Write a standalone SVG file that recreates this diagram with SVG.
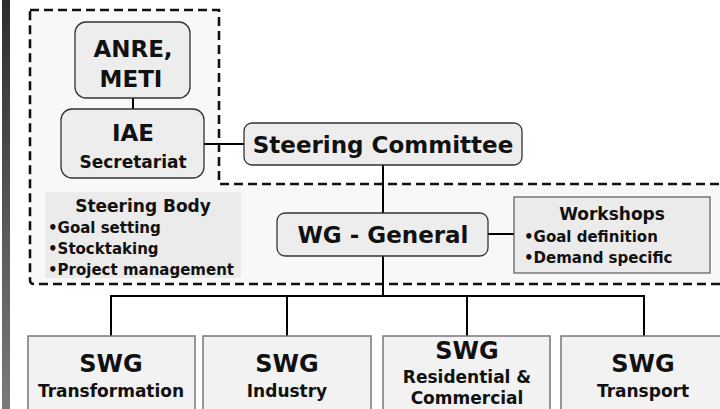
<svg xmlns="http://www.w3.org/2000/svg" width="720" height="409" viewBox="0 0 720 409">
  <defs>
    <linearGradient id="bar" x1="0" y1="0" x2="0" y2="1">
      <stop offset="0" stop-color="#2e2e2e"/>
      <stop offset="1" stop-color="#7a7a7a"/>
    </linearGradient>
    <style>
      text { font-family: "DejaVu Sans", Verdana, sans-serif; font-weight: bold; fill: #111; }
      .c { text-anchor: middle; }
      .rb { fill: #ededed; stroke: #333; stroke-width: 1.3; }
      .sq { fill: #ebebeb; stroke: #666; stroke-width: 1.3; }
      .swg { fill: #f2f2f2; stroke: #777; stroke-width: 1.5; }
      .dash { fill: #f8f8f8; stroke: #111; stroke-width: 2.6; stroke-dasharray: 9 5; }
      .conn { fill: none; stroke: #000; stroke-width: 2; }
      .big { font-size: 23px; }
      .mid { font-size: 17px; }
      .sml { font-size: 15px; }
    </style>
  </defs>
  <rect x="0" y="0" width="720" height="409" fill="#fff"/>
  <rect x="2" y="0" width="8" height="409" fill="url(#bar)"/>

  <g id="steering-region">
    <path class="dash" d="M30,10 H219 V184 H728 V284 H34 Q30,284 30,280 Z"/>
  </g>

  <g id="connectors">
    <line class="conn" x1="133" y1="98" x2="133" y2="109"/>
    <line class="conn" x1="204" y1="144" x2="244" y2="144"/>
    <line class="conn" x1="383" y1="165" x2="383" y2="213"/>
    <line class="conn" x1="383" y1="256" x2="383" y2="296"/>
    <line class="conn" x1="488" y1="234" x2="514" y2="234"/>
    <polyline class="conn" points="111,336 111,296 644,296 644,336"/>
    <line class="conn" x1="287" y1="296" x2="287" y2="336"/>
    <line class="conn" x1="467" y1="296" x2="467" y2="336"/>
  </g>

  <g id="anre-meti">
    <rect class="rb" x="75" y="22" width="115" height="76" rx="11"/>
    <text class="big c" x="133" y="57">ANRE,</text>
    <text class="big c" x="131" y="87">METI</text>
  </g>

  <g id="iae">
    <rect class="rb" x="61" y="109" width="143" height="69" rx="11"/>
    <text class="big c" x="133" y="141">IAE</text>
    <text class="mid c" x="133" y="168">Secretariat</text>
  </g>

  <g id="steering-committee">
    <rect class="rb" x="244" y="123" width="278" height="42" rx="8" fill="#f2f2f2"/>
    <text class="big c" x="383" y="153">Steering Committee</text>
  </g>

  <g id="steering-body">
    <rect x="45" y="192" width="196" height="86" fill="#ebebeb"/>
    <text class="mid c" x="143" y="212">Steering Body</text>
    <text class="sml" x="48" y="233">•Goal setting</text>
    <text class="sml" x="48" y="254">•Stocktaking</text>
    <text class="sml" x="48" y="275">•Project management</text>
  </g>

  <g id="wg-general">
    <rect class="rb" x="277" y="213" width="211" height="43" rx="8"/>
    <text class="big c" x="383" y="243">WG - General</text>
  </g>

  <g id="workshops">
    <rect class="sq" x="514" y="197" width="196" height="76"/>
    <text class="mid c" x="612" y="220">Workshops</text>
    <text class="sml" x="524" y="242">•Goal definition</text>
    <text class="sml" x="524" y="263">•Demand specific</text>
  </g>

  <g id="swg-transformation">
    <rect class="swg" x="28" y="336" width="167" height="80"/>
    <text class="big c" x="111" y="372" style="font-size:24px">SWG</text>
    <text class="mid c" x="111" y="397">Transformation</text>
  </g>

  <g id="swg-industry">
    <rect class="swg" x="203" y="336" width="168" height="80"/>
    <text class="big c" x="287" y="372" style="font-size:24px">SWG</text>
    <text class="mid c" x="287" y="397">Industry</text>
  </g>

  <g id="swg-residential">
    <rect class="swg" x="383" y="336" width="167" height="80"/>
    <text class="big c" x="467" y="359" style="font-size:24px">SWG</text>
    <text class="mid c" x="467" y="383">Residential &amp;</text>
    <text class="mid c" x="467" y="404">Commercial</text>
  </g>

  <g id="swg-transport">
    <rect class="swg" x="561" y="336" width="166" height="80"/>
    <text class="big c" x="643" y="372" style="font-size:24px">SWG</text>
    <text class="mid c" x="643" y="397">Transport</text>
  </g>
</svg>
